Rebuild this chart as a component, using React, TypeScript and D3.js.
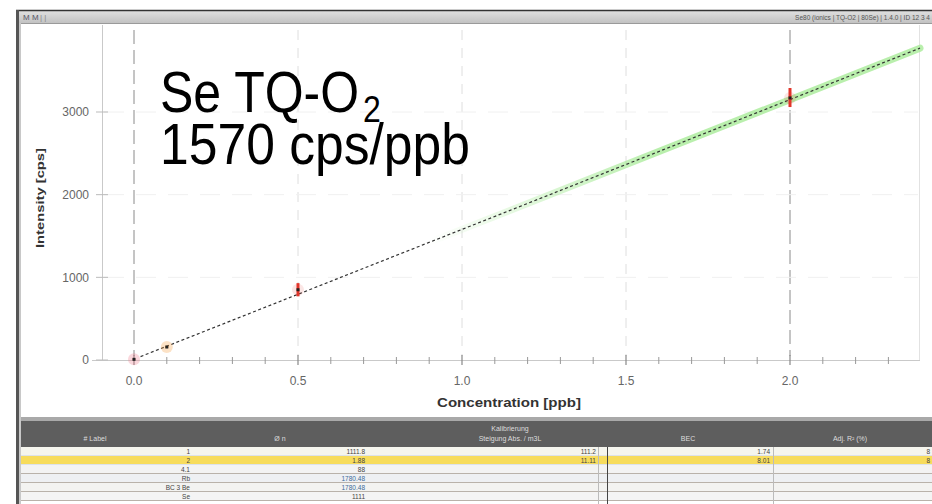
import React from "react";
import * as d3 from "d3";

const concentrations = [0, 0.1, 0.5, 2.0];
const intensities = [8, 157, 850, 3170];
const errorLow = [0, 145, 770, 3060];
const errorHigh = [18, 172, 930, 3290];
const slope = 1570;
const intercept = 10;
const xTicks = [0, 0.5, 1.0, 1.5, 2.0];
const xTickLabels = ["0.0", "0.5", "1.0", "1.5", "2.0"];
const xMinorTicks = [0.1, 0.2, 0.3, 0.4, 0.6, 0.7, 0.8, 0.9, 1.1, 1.2, 1.3, 1.4, 1.6, 1.7, 1.8, 1.9, 2.1, 2.2, 2.3];
const yTicks = [0, 1000, 2000, 3000];
const yTickLabels = ["0", "1000", "2000", "3000"];
const title1 = "Se TQ-O";
const title1Sub = "2";
const title2 = "1570 cps/ppb";
const xAxisTitle = "Concentration [ppb]";
const yAxisTitle = "Intensity [cps]";

const tableHeaders = ["# Label", "Ø n", "Steigung   Abs. / m3L", "BEC", "Adj. R² (%)"];
const tableTopHeader = "Kalibrierung";
const rowLabels = ["1", "2", "4.1", "Rb", "BC 3 Be", "Se"];
const rowValues = ["1111.8", "1.88", "88", "1780.48", "1780.48", "1111"];
const rowSlopes = ["111.2", "11.11", "", "", "", ""];
const rowBec = ["1.74", "8.01", "", "", "", ""];
const rowR2 = ["8", "8", "", "", "", ""];

const pointColors = ["#f07a8a", "#f5a043", "#e2352a", "#e2352a"];

export default function App() {
  const W = 932;
  const H = 504;
  const x = d3.scaleLinear().domain([0, 2]).range([134, 790]);
  const y = d3.scaleLinear().domain([0, 3000]).range([360, 112]);
  const fit = d3
    .line<number>()
    .x((c) => x(c))
    .y((c) => y(intercept + slope * c));
  const xEnd = x.invert(920);
  const fitLine = fit([0.02, xEnd]) || "";
  const greenLine = fit([0.9, xEnd]) || "";

  const font = "'Liberation Sans', Arial, sans-serif";
  const rowH = 9;
  const rowY0 = 447;
  const rowFills = ["#f5f5ee", "#f7dc5c", "#f3f3f3", "#eef0f3", "#f3f3f1", "#f4f4f4"];

  return (
    <div style={{ position: "absolute", left: 0, top: 0, width: W, height: H, background: "#fff" }}>
      <svg width={W} height={H} viewBox={`0 0 ${W} ${H}`} style={{ display: "block" }}>
        <defs>
          <linearGradient id="titleGrad" x1="0" y1="0" x2="0" y2="1">
            <stop offset="0" stopColor="#e2e2e2" />
            <stop offset="1" stopColor="#c2c2c2" />
          </linearGradient>
          <linearGradient id="greenGrad" gradientUnits="userSpaceOnUse" x1={x(0.9)} y1="0" x2={x(1.6)} y2="0">
            <stop offset="0" stopColor="#a8eb98" stopOpacity="0" />
            <stop offset="1" stopColor="#a8eb98" stopOpacity="0.8" />
          </linearGradient>
        </defs>

        {/* window frame */}
        <rect x={0} y={0} width={W} height={H} fill="#fff" />
        <rect x={16} y={10} width={W - 16} height={H - 10} fill="#fff" />
        <rect x={16} y={10} width={W - 16} height={13} fill="url(#titleGrad)" />
        <line x1={16} x2={W} y1={10.5} y2={10.5} stroke="#333" strokeWidth={1.5} />
        <line x1={16} x2={W} y1={23.5} y2={23.5} stroke="#9a9a9a" strokeWidth={1} />
        <rect x={16} y={10} width={3} height={H - 10} fill="#555" />
        <rect x={19} y={23} width={2} height={H - 23} fill="#c8c8c8" />
        <text x={23} y={20} fontFamily={font} fontSize={8} fill="#556">M M</text>
        <text x={40} y={20} fontFamily={font} fontSize={8} fill="#888">| |</text>
        <text x={W - 2} y={20} fontFamily={font} fontSize={6.5} fill="#555" textAnchor="end">
          Se80 (ionics | TQ-O2 | 80Se) | 1.4.0 | ID 12 3 4
        </text>

        {/* grid */}
        {xTicks.map((v) => (
          <line
            key={`gx${v}`}
            x1={x(v)}
            x2={x(v)}
            y1={30}
            y2={356}
            stroke={v === 0 || v === 2 ? "#8a8a8a" : "#dedede"}
            strokeWidth={1}
            strokeDasharray={v === 0 || v === 2 ? "14,6" : "10,8"}
          />
        ))}
        <line x1={919.5} x2={919.5} y1={25} y2={360} stroke="#e2e2e2" strokeWidth={1} />
        {yTicks.slice(1).map((v) => (
          <line key={`gy${v}`} x1={104} x2={918} y1={y(v)} y2={y(v)} stroke="#f0f0f0" strokeDasharray="20,12" />
        ))}

        {/* axes */}
        <line x1={102.5} x2={102.5} y1={25} y2={360} stroke="#c9c9c9" strokeWidth={1} />
        <line x1={92} x2={920} y1={360.5} y2={360.5} stroke="#c9c9c9" strokeWidth={1} />
        {yTicks.map((v, i) => (
          <g key={`yt${v}`}>
            <line x1={96} x2={108} y1={y(v)} y2={y(v)} stroke="#bbb" />
            <text
              x={89}
              y={y(v)}
              dy="0.36em"
              textAnchor="end"
              fontFamily={font}
              fontSize={12}
              fill="#666"
            >
              {yTickLabels[i]}
            </text>
          </g>
        ))}
        {xTicks.map((v, i) => (
          <g key={`xt${v}`}>
            <line x1={x(v)} x2={x(v)} y1={355} y2={365} stroke="#888" strokeWidth={1.2} />
            <text x={x(v)} y={385} textAnchor="middle" fontFamily={font} fontSize={12} fill="#666">
              {xTickLabels[i]}
            </text>
          </g>
        ))}
        {xMinorTicks.map((v) => (
          <line key={`xm${v}`} x1={x(v)} x2={x(v)} y1={357} y2={364} stroke="#999" strokeWidth={1} />
        ))}
        <text x={509} y={407} textAnchor="middle" fontFamily={font} fontSize={12} fontWeight="bold" fill="#333" textLength={144} lengthAdjust="spacingAndGlyphs">
          {xAxisTitle}
        </text>
        <text
          transform={`translate(44,198) rotate(-90)`}
          textAnchor="middle"
          fontFamily={font}
          fontSize={11}
          fontWeight="bold"
          fill="#333"
          textLength={100}
          lengthAdjust="spacingAndGlyphs"
        >
          {yAxisTitle}
        </text>

        {/* fit line */}
        <path d={greenLine} fill="none" stroke="url(#greenGrad)" strokeWidth={7} strokeLinecap="round" />
        <path d={fitLine} fill="none" stroke="#333" strokeWidth={1.2} strokeDasharray="3,2.5" />

        {/* data points */}
        {concentrations.map((c, i) => (
          <g key={`p${i}`}>
            <circle cx={x(c)} cy={y(intensities[i])} r={6} fill={pointColors[i]} opacity={i >= 2 ? 0.12 : 0.3} />
            <line
              x1={x(c)}
              x2={x(c)}
              y1={y(errorLow[i])}
              y2={y(errorHigh[i])}
              stroke={pointColors[i]}
              strokeWidth={3}
            />
            <rect x={x(c) - 1.5} y={y(intensities[i]) - 1.5} width={3} height={3} fill="#222" />
          </g>
        ))}

        {/* annotation */}
        <g transform="translate(160,112) scale(1,1.15)">
          <text x={0} y={0} fontFamily={font} fontSize={50} fill="#000">
            {title1}
          </text>
          <text x={203} y={9} fontFamily={font} fontSize={32} fill="#000">
            {title1Sub}
          </text>
        </g>
        <g transform="translate(160,164) scale(1,1.15)">
          <text x={0} y={0} fontFamily={font} fontSize={50} fill="#000" textLength={310} lengthAdjust="spacingAndGlyphs">
            {title2}
          </text>
        </g>

        {/* table */}
        <rect x={21} y={417} width={W - 21} height={4} fill="#a9a9a9" />
        <rect x={21} y={421} width={W - 21} height={26} fill="#5e5e5e" />
        <text x={510} y={431} textAnchor="middle" fontFamily={font} fontSize={7} fill="#ddd">{tableTopHeader}</text>
        <text x={95} y={441} textAnchor="middle" fontFamily={font} fontSize={7} fill="#ddd">{tableHeaders[0]}</text>
        <text x={280} y={441} textAnchor="middle" fontFamily={font} fontSize={7} fill="#ddd">{tableHeaders[1]}</text>
        <text x={510} y={441} textAnchor="middle" fontFamily={font} fontSize={7} fill="#ddd">{tableHeaders[2]}</text>
        <text x={688} y={441} textAnchor="middle" fontFamily={font} fontSize={7} fill="#ddd">{tableHeaders[3]}</text>
        <text x={850} y={441} textAnchor="middle" fontFamily={font} fontSize={7} fill="#ddd">{tableHeaders[4]}</text>
        {rowLabels.map((lab, i) => {
          const top = rowY0 + i * rowH;
          return (
            <g key={`r${i}`}>
              <rect x={21} y={top} width={W - 21} height={rowH} fill={rowFills[i]} />
              <line x1={21} x2={W} y1={top + rowH - 0.5} y2={top + rowH - 0.5} stroke={i >= 2 ? "#b9b2aa" : "#dde2ea"} strokeWidth={i >= 2 ? 1.2 : 1} />
              <text x={190} y={top + 7} textAnchor="end" fontFamily={font} fontSize={6.5} fill="#444">{lab}</text>
              <text x={365} y={top + 7} textAnchor="end" fontFamily={font} fontSize={6.5} fill={i === 3 || i === 4 ? "#3a6a9a" : "#444"}>{rowValues[i]}</text>
              <text x={596} y={top + 7} textAnchor="end" fontFamily={font} fontSize={6.5} fill="#444">{rowSlopes[i]}</text>
              <text x={770} y={top + 7} textAnchor="end" fontFamily={font} fontSize={6.5} fill="#444">{rowBec[i]}</text>
              <text x={930} y={top + 7} textAnchor="end" fontFamily={font} fontSize={6.5} fill="#444">{rowR2[i]}</text>
            </g>
          );
        })}
        <line x1={598.5} x2={598.5} y1={447} y2={H} stroke="#bbb" />
        <line x1={607.5} x2={607.5} y1={447} y2={H} stroke="#444" />
        <line x1={773.5} x2={773.5} y1={447} y2={H} stroke="#bbb" />
      </svg>
    </div>
  );
}
